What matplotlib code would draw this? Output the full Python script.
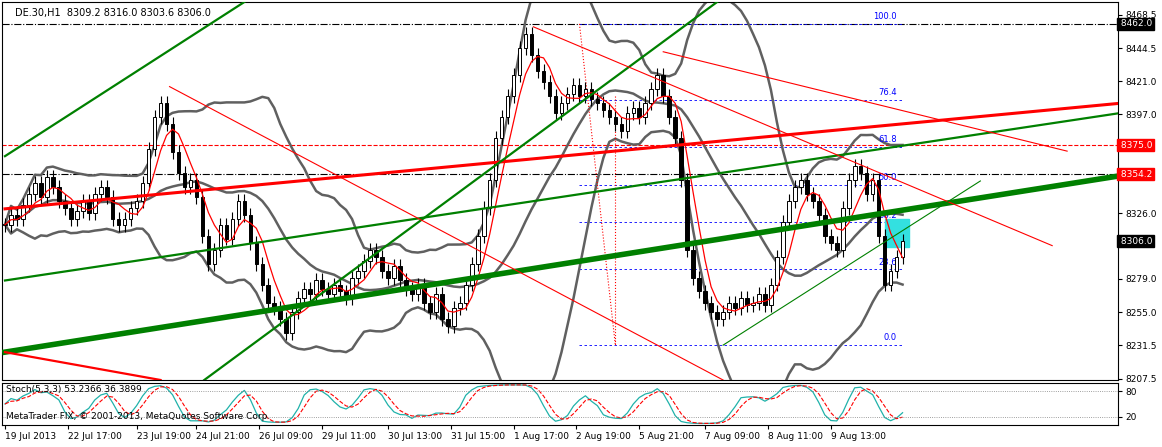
import numpy as np
import pandas as pd
import matplotlib
matplotlib.use("Agg")
import matplotlib.pyplot as plt
from matplotlib.patches import Rectangle

closes = [8318,8325,8322,8332,8340,8348,8338,8352,8345,8335,
          8330,8322,8328,8335,8326,8340,8345,8338,8322,8318,
          8322,8330,8335,8348,8372,8395,8405,8390,8370,8355,
          8345,8350,8338,8310,8290,8300,8318,8308,8322,8335,
          8325,8305,8290,8275,8262,8258,8250,8240,8255,8265,
          8272,8268,8278,8272,8268,8275,8270,8265,8280,8285,
          8292,8300,8295,8285,8280,8288,8278,8272,8268,8275,
          8262,8255,8268,8250,8245,8258,8262,8275,8290,8310,
          8330,8350,8380,8395,8410,8425,8445,8455,8440,8428,
          8420,8410,8398,8405,8412,8418,8410,8415,8408,8405,
          8400,8395,8390,8385,8398,8402,8395,8405,8415,8425,
          8410,8395,8380,8350,8300,8280,8270,8262,8255,8250,
          8255,8262,8258,8265,8260,8262,8268,8260,8275,8295,
          8320,8335,8345,8350,8340,8335,8325,8310,8305,8300,
          8330,8350,8360,8355,8340,8350,8310,8275,8285,8295,8306]
wick = 5.0
time_labels = ["19 Jul 2013","22 Jul 17:00","23 Jul 19:00","24 Jul 21:00","26 Jul 09:00",
               "29 Jul 11:00","30 Jul 13:00","31 Jul 15:00","1 Aug 17:00","2 Aug 19:00",
               "5 Aug 21:00","7 Aug 09:00","8 Aug 11:00","9 Aug 13:00"]
time_label_bars = [0,10.5,22,32,42.5,53,64,74.5,85,95.5,106,117,127.5,138]
price_ticks = [8468.5,8444.5,8421.0,8397.0,8326.0,8279.0,8255.0,8231.5,8207.5]
fib_levels = [0.0,23.6,38.2,50.0,61.8,76.4,100.0]
fib_low, fib_high = 8231.5, 8462.0
trendlines = [
    (0,8226.5,186,8352.8,"#008000",4,"-"),
    (0,8277.9,186,8397.8,"#008000",1.6,"-"),
    (0,8329.3,186,8404.9,"#ff0000",2.2,"-"),
    (0,8367.1,40,8477.7,"#008000",1.6,"-"),
    (33.3,8206.5,119,8477.7,"#008000",1.6,"-"),
    (27.5,8417,120,8206.5,"#ff0000",0.8,"-"),
    (110,8442,177.5,8370.7,"#ff0000",0.8,"-"),
    (88.3,8459.9,175,8302.9,"#ff0000",0.8,"-"),
    (0,8226.5,26,8206.5,"#ff0000",1.6,"-"),
    (120,8231.5,163,8349.3,"#008000",0.8,"-"),
]
hlines = [(8462.0,"black","-."),(8375.0,"red","--"),(8354.2,"black","-.")]

n = len(closes)
c = np.array(closes, float)
o = np.r_[c[0], c[:-1]]
h = np.maximum(o, c) + wick
l = np.minimum(o, c) - wick
s = pd.Series(c)
ma = s.rolling(5, min_periods=1).mean()
mid = s.rolling(20, min_periods=1).mean()
sd = s.rolling(20, min_periods=1).std().fillna(0)
hh = pd.Series(h).rolling(5, min_periods=1).max()
ll = pd.Series(l).rolling(5, min_periods=1).min()
k = ((s - ll).rolling(3, min_periods=1).sum() / (hh - ll).rolling(3, min_periods=1).sum() * 100)
d = k.rolling(3, min_periods=1).mean()

fig = plt.figure(figsize=(11.62, 4.47), dpi=100)
W, H = 1162, 447
ax = fig.add_axes([2/W, (447-380)/H, 1116/W, 378/H])
ax2 = fig.add_axes([2/W, (447-425)/H, 1116/W, 42/H], sharex=ax)
xmax = 186
ax.set_xlim(-0.5, xmax)
ax.set_ylim(8206.5, 8477.7)
x = np.arange(n)
for i in range(n):
    ax.vlines(x[i], l[i], h[i], color="black", lw=0.8, zorder=3)
    b0, b1 = min(o[i], c[i]), max(o[i], c[i])
    ax.add_patch(Rectangle((x[i]-0.3, b0), 0.6, max(b1-b0, 0.6),
                 facecolor="white" if c[i] >= o[i] else "black", edgecolor="black", lw=0.7, zorder=4))
ax.plot(x, ma, color="red", lw=0.9, zorder=5)
for band in (mid+2*sd, mid-2*sd, mid):
    ax.plot(x, band, color="#606060", lw=1.8, zorder=2)
for (a0,p0,a1,p1,col,lw,ls) in trendlines:
    ax.plot([a0,a1],[p0,p1],color=col,lw=lw,ls=ls,zorder=6)
for (p,col,ls) in hlines:
    ax.axhline(p,color=col,lw=0.8,ls=ls,zorder=1)
for f in fib_levels:
    p = fib_low + (fib_high-fib_low)*f/100
    ax.plot([96,150],[p,p],color="blue",lw=0.6,ls=(0,(3,3)),zorder=1)
    ax.text(149,p+2,f"{f:.1f}",color="blue",fontsize=6,ha="right",va="bottom")
ax.plot([96,102],[8462,8231.5],color="red",lw=0.8,ls=":")
ax.plot([102,102],[8410,8231.5],color="red",lw=0.8,ls=":")
ax.add_patch(Rectangle((147,8302),4,20,color="#33e0e0",zorder=2))
ax.set_yticks(price_ticks)
ax.yaxis.tick_right()
ax.tick_params(axis="y",labelsize=6.5,length=3,pad=2)
ax.tick_params(axis="x",bottom=False,labelbottom=False)
def tag(p,txt,fc,tc):
    ax.text(1.0,p,txt,transform=ax.get_yaxis_transform(),fontsize=6.5,color=tc,va="center",ha="left",
            bbox=dict(boxstyle="square,pad=0.15",fc=fc,ec=fc),clip_on=False,zorder=10)
tag(8462.0," 8462.0","black","white")
tag(8375.0," 8375.0","red","white")
tag(8354.2," 8354.2","red","white")
tag(8306.0," 8306.0","black","white")
ax.text(0.012,0.985,"DE.30,H1  8309.2 8316.0 8303.6 8306.0",transform=ax.transAxes,fontsize=7,va="top")

ax2.plot(x,k,color="#20b2aa",lw=0.9)
ax2.plot(x,d,color="red",lw=0.8,ls="--")
ax2.axhline(20,color="gray",lw=0.6,ls=":")
ax2.axhline(80,color="gray",lw=0.6,ls=":")
ax2.set_ylim(0,100)
ax2.set_yticks([20,80]); ax2.yaxis.tick_right()
ax2.tick_params(axis="y",labelsize=6.5,length=3,pad=2)
ax2.text(0.004,0.95,"Stoch(5,3,3) 53.2366 36.3899",transform=ax2.transAxes,fontsize=6.5,va="top")
ax2.text(0.004,0.3,"MetaTrader FIX, © 2001-2013, MetaQuotes Software Corp.",transform=ax2.transAxes,fontsize=6.5,va="top")
ax2.set_xticks(time_label_bars)
ax2.set_xticklabels(time_labels,fontsize=6.5,ha="left")
ax2.tick_params(axis="x",length=3,pad=2)
fig.savefig("out.png",dpi=100,facecolor="white")
